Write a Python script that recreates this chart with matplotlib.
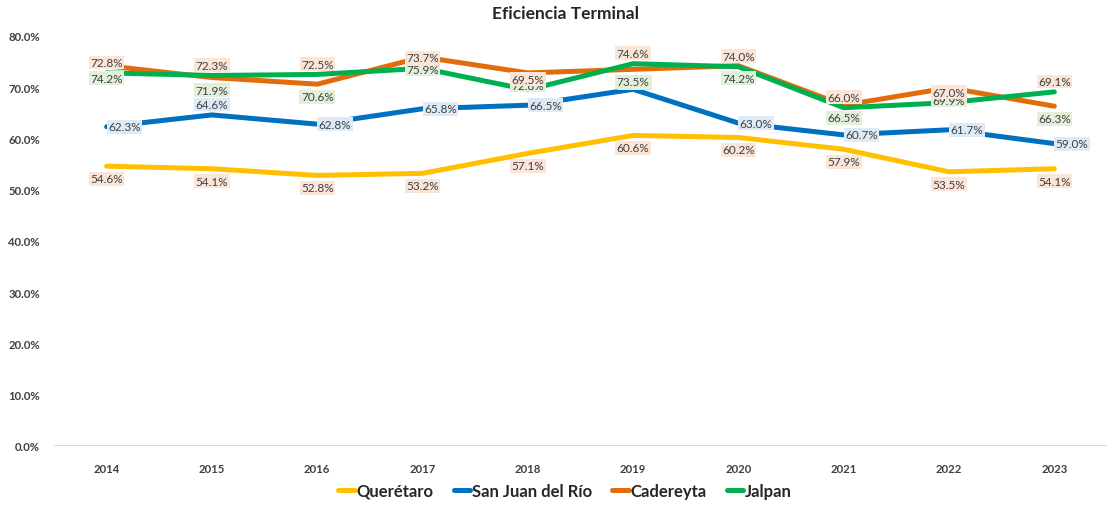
import matplotlib.pyplot as plt
from matplotlib.ticker import PercentFormatter

plt.rcParams['font.family'] = ['Lato', 'DejaVu Sans']

years = ['2014', '2015', '2016', '2017', '2018', '2019', '2020', '2021', '2022', '2023']

queretaro = [54.6, 54.1, 52.8, 53.2, 57.1, 60.6, 60.2, 57.9, 53.5, 54.1]
san_juan = [62.3, 64.6, 62.8, 65.8, 66.5, 69.6, 63.0, 60.7, 61.7, 59.0]
cadereyta = [74.2, 71.9, 70.6, 75.9, 72.8, 73.5, 74.2, 66.5, 69.9, 66.3]
jalpan = [72.8, 72.3, 72.5, 73.7, 69.5, 74.6, 74.0, 66.0, 67.0, 69.1]

# name, values, line colour, label background, label placement
series = [
    ('Querétaro', queretaro, '#FFC000', '#FBE5D6', 'below'),
    ('San Juan del Río', san_juan, '#0070C0', '#DEEBF7', 'right'),
    ('Cadereyta', cadereyta, '#E36C0A', '#E2F0D9', 'below'),
    ('Jalpan', jalpan, '#00B050', '#FBE5D6', 'above'),
]

txt = '#404040'
fig = plt.figure(figsize=(11.12, 5.06), dpi=100)
ax = fig.add_axes([54 / 1112, 59 / 506, 1053 / 1112, 410 / 506])

x = list(range(len(years)))
for name, vals, col, bg, pos in series:
    ax.plot(x, vals, color=col, lw=3.6, label=name, solid_capstyle='round', zorder=2)

for name, vals, col, bg, pos in series:
    for i, v in enumerate(vals):
        p = pos
        if name == 'San Juan del Río' and i == 1:
            p = 'above'
        if name == 'San Juan del Río' and i == 5:
            p = 'hidden'
        if p == 'above':
            off, ha, va = (0, 7.5), 'center', 'center'
        elif p == 'below':
            off, ha, va = (0, -9), 'center', 'center'
        elif p == 'hidden':
            off, ha, va = (1, 4.5), 'center', 'center'
        else:
            off, ha, va = (1, 0), 'left', 'center'
        ax.annotate(f'{v:.1f}%', (i, v), xytext=off, textcoords='offset points',
                    ha=ha, va=va, fontsize=8.5, color=txt, zorder=5,
                    bbox=dict(boxstyle='square,pad=0.12', fc=bg, ec='none'))

ax.set_xlim(-0.5, 9.5)
ax.set_ylim(0, 80)
ax.set_yticks(range(0, 81, 10))
ax.yaxis.set_major_formatter(PercentFormatter(decimals=1))
ax.set_xticks(x)
ax.set_xticklabels(years)
for s in ax.spines.values():
    s.set_visible(False)
ax.axhline(0, color='#D0D0D0', lw=1.2, zorder=1)
ax.tick_params(length=0, labelsize=8.2, colors=txt, pad=12)
ax.tick_params(axis='y', pad=10)
for t in ax.get_xticklabels() + ax.get_yticklabels():
    t.set_fontweight('bold')

fig.text(565 / 1112, 1 - 14 / 506, 'Eficiencia Terminal', ha='center', va='center',
         fontsize=12.5, fontweight='bold', color='#262626')

fig.legend(loc='center', bbox_to_anchor=(565 / 1112, 1 - 492 / 506), ncol=4, frameon=False,
           handlelength=1.0, handletextpad=0.1, columnspacing=1.2,
           prop={'size': 12, 'weight': 'bold'}, labelcolor='#262626')

fig.savefig('out.png', dpi=100)
